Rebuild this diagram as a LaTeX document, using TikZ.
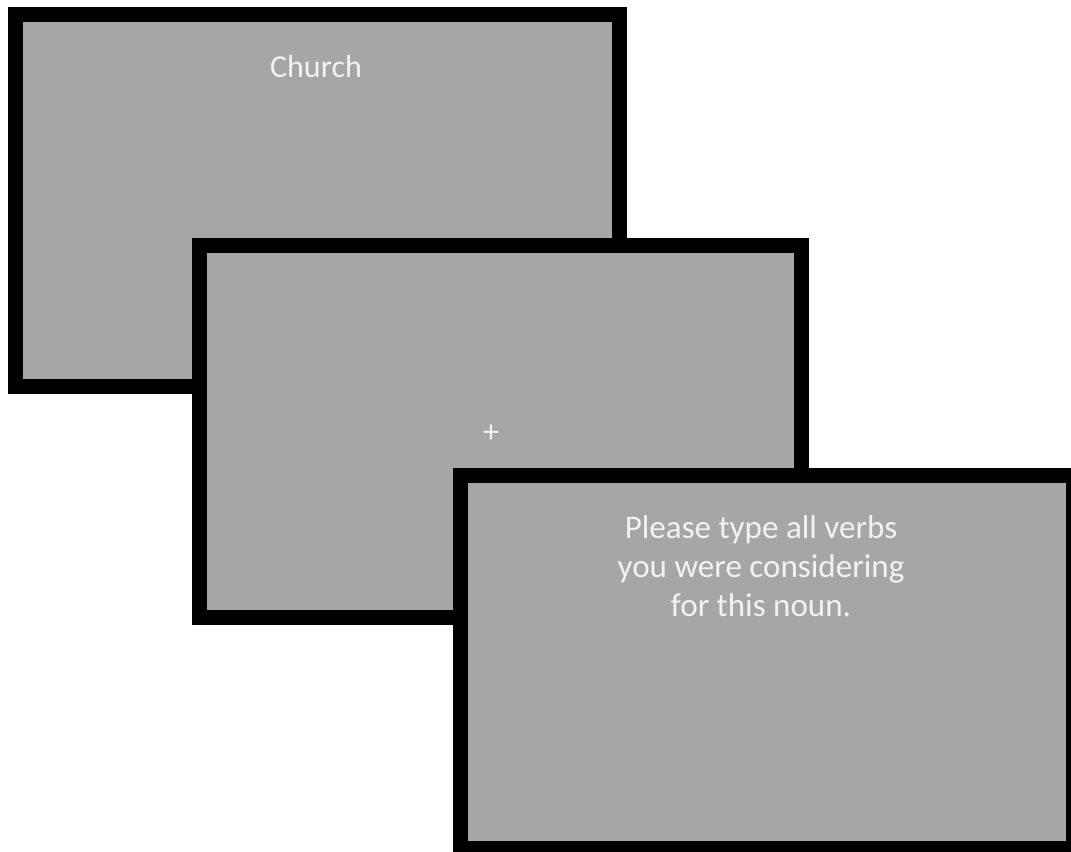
\documentclass[tikz,border=0pt]{standalone}
\usepackage{fontspec}
\setmainfont{Carlito}
\definecolor{screen}{HTML}{A6A6A6}
\definecolor{screentext}{HTML}{F2F2F2}
\tikzset{
  screenbox/.style={draw=black, line width=11.25pt, fill=screen},
  screenlabel/.style={text=screentext, font=\fontsize{24}{29.3}\selectfont, align=center, inner sep=0pt}
}
\begin{document}
\begin{tikzpicture}[x=0.75pt,y=-0.75pt]
\useasboundingbox (0,0) rectangle (1071,852);
\clip (0,0) rectangle (1071,852);
% screen 1
\draw[screenbox] (15.5,14.5) rectangle (619.5,386);
\node[screenlabel, anchor=base] (word) at (316,78) {Church};
% screen 2
\draw[screenbox] (199.5,245.5) rectangle (801.5,617.5);
\node[screenlabel] (fix) at (491,434) {+};
% screen 3
\draw[screenbox] (460.5,475.5) rectangle (1073.5,848.5);
\node[screenlabel, font=\fontsize{24.8}{29.5}\selectfont] (prompt) at (761,566) {Please type all verbs\\you were considering\\for this noun.};
\end{tikzpicture}
\end{document}
